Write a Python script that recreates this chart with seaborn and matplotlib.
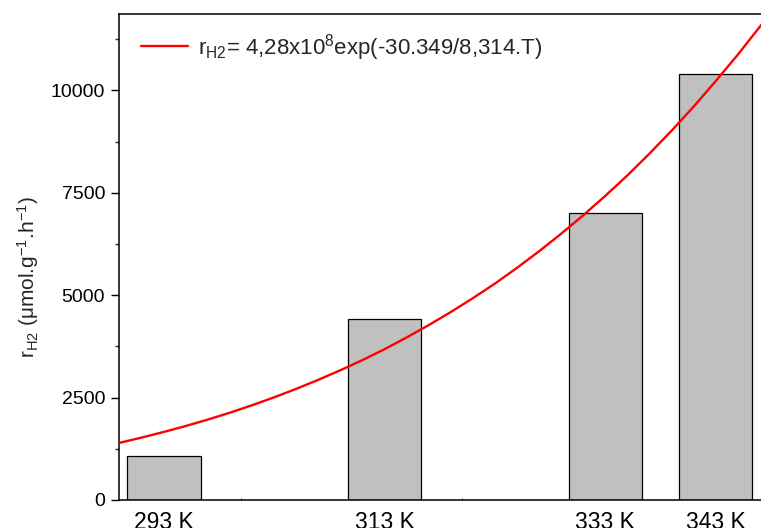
import numpy as np
import pandas as pd
import matplotlib
matplotlib.use("Agg")
import matplotlib.pyplot as plt
import seaborn as sns
from matplotlib.ticker import MultipleLocator, FixedLocator

# bar data
temps = [293, 313, 333, 343]
rates = [1075, 4415, 7000, 10390]
temp_labels = ["293 K", "313 K", "333 K", "343 K"]

# fitted curve, values
curve_T = [288.9, 291, 293, 295, 297, 299, 301, 303, 305, 307, 309, 311, 313, 315,
           317, 319, 321, 323, 325, 327, 329, 331, 333, 335, 337, 339, 341, 343,
           345, 347.2]
curve_r = [1392, 1526, 1663, 1809, 1966, 2134, 2316, 2509, 2715, 2936, 3170, 3417,
           3683, 3970, 4271, 4590, 4928, 5285, 5668, 6073, 6501, 6951, 7425, 7924,
           8456, 9014, 9601, 10224, 10868, 11620]

sns.set_theme(style="white")
plt.rcParams["font.family"] = ["Liberation Sans", "DejaVu Sans"]
plt.rcParams["mathtext.default"] = "regular"

bars = pd.DataFrame({"T": temps, "r": rates})
line = pd.DataFrame({"T": curve_T, "r": curve_r})

fig = plt.figure(figsize=(7.61, 5.28), dpi=100)
ax = fig.add_axes([119 / 761, 28 / 528, 642 / 761, 486 / 528])

sns.barplot(data=bars, x="T", y="r", native_scale=True, width=0.666,
            color="#c0c0c0", saturation=1, edgecolor="black", linewidth=0.9,
            ax=ax, zorder=2)
sns.lineplot(data=line, x="T", y="r", color="#ff0000", linewidth=1.7, ax=ax,
             zorder=3, label=r"r$_{H2}$= 4,28x10$^{8}$exp(-30.349/8,314.T)")

ax.set_xlim(288.92, 347.12)
ax.set_ylim(0, 11867)

ax.xaxis.set_major_locator(FixedLocator(temps))
ax.set_xticklabels(temp_labels)
ax.xaxis.set_minor_locator(FixedLocator([290, 300, 310, 320, 330, 340]))
ax.tick_params(axis="x", which="major", length=0, pad=8, labelsize=16.5, colors="black")
ax.tick_params(axis="x", which="minor", length=1.5, width=0.6, direction="in", bottom=True)

ax.yaxis.set_major_locator(MultipleLocator(2500))
ax.yaxis.set_minor_locator(MultipleLocator(1250))
ax.tick_params(axis="y", which="major", length=6, width=1, pad=4, labelsize=14,
               left=True, colors="black")
ax.tick_params(axis="y", which="minor", length=3, width=1, left=True)

ax.set_xlabel("")
ax.set_ylabel(r"r$_{H2}$ ($\mu$mol.g$^{-1}$.h$^{-1}$)", fontsize=15, va="center")
ax.yaxis.set_label_coords(-0.142, 0.459)

for side in ["left", "top", "bottom"]:
    ax.spines[side].set_visible(True)
    ax.spines[side].set_color("black")
    ax.spines[side].set_linewidth(1.1)
ax.spines["right"].set_visible(False)

ax.legend(loc="center left", bbox_to_anchor=(22 / 642, (500 - 47.3) / 486),
          frameon=False, fontsize=16, handlelength=2.1, handletextpad=0.45,
          borderpad=0, borderaxespad=0)

fig.savefig("out.png", dpi=100)
